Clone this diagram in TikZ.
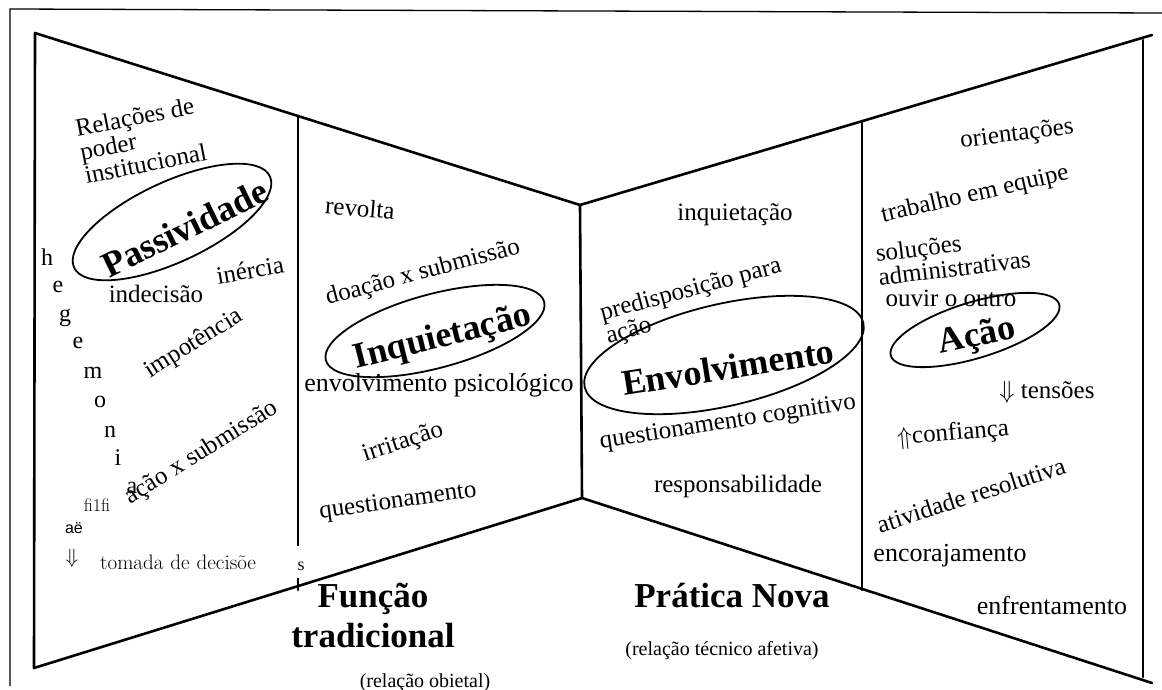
\documentclass[tikz,border=0pt]{standalone}
\usepackage{fontspec}
\setmainfont{Liberation Serif}
\newfontfamily\sansfont{Liberation Sans}
\usepackage{tikz}
\usetikzlibrary{shapes,calc,positioning}
\tikzset{
    x=1pt, y=-1pt,
    wall/.style={line width=2.6pt, line cap=round, line join=round},
    frameline/.style={line width=1.3pt},
    word/.style={inner sep=0pt, font=\fontsize{25}{26}\selectfont},
    block/.style={inner sep=0pt, align=left, font=\fontsize{25}{24}\selectfont},
    keyword/.style={inner sep=0pt, font=\fontsize{36}{38}\selectfont\bfseries},
    oval/.style={draw, ellipse, line width=1.8pt, inner sep=0pt},
    letter/.style={inner sep=0pt, font=\fontsize{24}{24}\selectfont},
    title/.style={inner sep=0pt, font=\fontsize{35}{38}\selectfont\bfseries},
    note/.style={inner sep=0pt, font=\fontsize{20}{22}\selectfont}
}

\begin{document}
\begin{tikzpicture}
    \useasboundingbox (0,0) rectangle (1162,690);
    % frame of the page
    \draw[frameline] (1162,13) -- (10,9) -- (10,686);

    % the two walls
    \coordinate (tl) at (35,33);
    \coordinate (bl) at (34,668);
    \coordinate (ct) at (580,205);
    \coordinate (cb) at (582,498);
    \coordinate (tr) at (1152,35);
    \coordinate (br) at (1152,683);
    \draw[wall] (tl) -- (ct) -- (tr);
    \draw[wall] (bl) -- (cb) -- (br);
    \draw[wall] (tl) -- (bl);
    \draw[wall] (ct) -- (cb);
    \draw[wall] (298,116) -- (298,590);
    \draw[wall] (862,121) -- (862,590);
    \draw[wall] (1143,40) -- (1143,677);

    % left panel
    \node[block, rotate=11] (relacoes) at (141,140) {Relações de\\poder\\institucional};
    \node[oval, minimum width=216pt, minimum height=80pt, rotate=25] (ovpass) at (172,222) {};
    \node[keyword, rotate=26] (passividade) at (185,228) {Passividade};
    \node[word] (indecisao) at (156,294) {indecisão};
    \node[word, rotate=10] (inercia) at (250,270) {inércia};
    \node[word, rotate=32] (impotencia) at (194,344) {impotência};
    \node[word, rotate=32] (acaosub) at (202,453) {ação x submissão};
    \foreach \ch/\px/\py [count=\k] in {h/47/257, e/58/287, g/65/318, e/78/343, m/93/373,
        o/100/402, n/110/432, i/118/458, a/132/488}
        \node[letter] (heg\k) at (\px,\py) {\ch};
    \node[inner sep=0pt, font={\fontfamily{lmr}\fontsize{18}{20}\selectfont}] (fifi) at (97,505) {fi1fi};
    \node[inner sep=0pt, font={\sansfont\fontsize{16}{18}\selectfont}] (ae) at (74,528) {aë};
    \node[inner sep=0pt, font=\fontsize{22}{22}\selectfont] (setabaixo) at (72,558) {$\Downarrow$};
    \node[fill=white, anchor=west, text width=196pt, inner xsep=3pt, inner ysep=9pt,
        font={\fontfamily{lmr}\fontsize{21}{22}\selectfont}] (tomada) at (97,562) {tomada de decisõe};
    \node[inner sep=0pt, font=\fontsize{18}{18}\selectfont] (sfim) at (301,566) {s};

    % traditional function
    \node[word, rotate=-5] (revolta) at (360,208) {revolta};
    \node[word, rotate=15] (doacao) at (423,273) {doação x submissão};
    \node[oval, minimum width=226pt, minimum height=74pt, rotate=15] (ovinq) at (435,331) {};
    \node[keyword, rotate=14] (inquietacao) at (443,338) {Inquietação};
    \node[word, font=\fontsize{26}{28}\selectfont] (psico) at (439,385) {envolvimento psicológico};
    \node[word, rotate=18] (irritacao) at (403,443) {irritação};
    \node[word, rotate=8] (quest) at (398,502) {questionamento};

    % new practice
    \node[word] (inquiet) at (735,215) {inquietação};
    \node[block, rotate=15] (predisp) at (694,302) {predisposição para\\ação};
    \node[oval, minimum width=286pt, minimum height=102pt, rotate=13] (ovenv) at (724,355) {};
    \node[keyword, rotate=9] (envolvimento) at (728,367) {Envolvimento};
    \node[word, rotate=9] (questcog) at (728,423) {questionamento cognitivo};
    \node[word] (respons) at (738,486) {responsabilidade};

    % right panel
    \node[word, rotate=7] (orient) at (1017,135) {orientações};
    \node[word, rotate=13] (trabalho) at (975,195) {trabalho em equipe};
    \node[block, rotate=7] (solucoes) at (953,256) {soluções\\administrativas};
    \node[word] (ouvir) at (951,298) {ouvir o outro};
    \node[oval, minimum width=176pt, minimum height=56pt, rotate=17] (ovacao) at (975,330) {};
    \node[keyword, rotate=12] (acao) at (977,337) {Ação};
    \node[word] (tensoes) at (1047,392) {$\Downarrow$ tensões};
    \node[word, rotate=5] (confianca) at (953,434) {$\Uparrow$confiança};
    \node[word, rotate=18] (atividade) at (971,495) {atividade resolutiva};
    \node[word, font=\fontsize{26}{28}\selectfont] (encoraj) at (950,556) {encorajamento};
    \node[word, font=\fontsize{26}{28}\selectfont] (enfrent) at (1052,605) {enfrentamento};

    % captions under the walls
    \node[title, anchor=base] (funcao) at (373,607) {Função};
    \node[title, anchor=base] (tradicional) at (373,647) {tradicional};
    \node[note, anchor=base] (objetal) at (425,687) {(relação obietal)};
    \node[title, anchor=base] (pratica) at (732,607) {Prática Nova};
    \node[note, anchor=base] (afetiva) at (722,655) {(relação técnico afetiva)};
\end{tikzpicture}
\end{document}
